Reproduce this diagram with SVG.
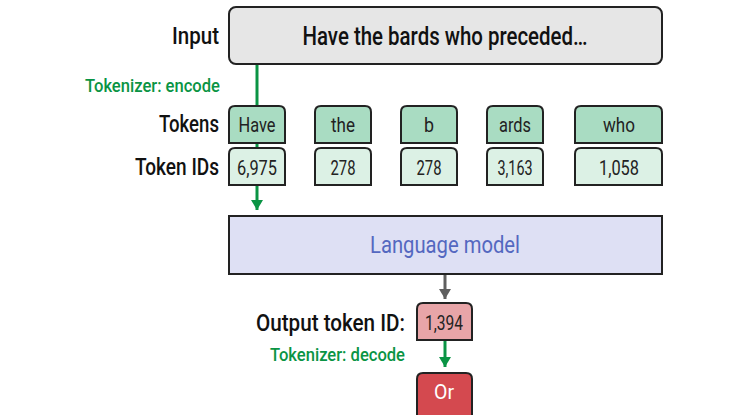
<svg xmlns="http://www.w3.org/2000/svg" width="734" height="415" viewBox="0 0 734 415">
<style>
text{font-family:Roboto,"Liberation Sans",sans-serif;font-weight:500;}
.lbl{font-size:24px;fill:#111;text-anchor:end;}
.grn{font-size:19px;fill:#0a9444;text-anchor:end;}
.box{stroke:#222;stroke-width:2;}
.tok{fill:#a9dcc2;}
.tid{fill:#dcf1e5;}
.bt{font-size:21px;fill:#222;text-anchor:middle;font-weight:400;}
.wt{fill:#fff;}
.lmt{font-size:24px;fill:#5468c0;text-anchor:middle;font-weight:400;}
</style>
<defs>
<marker id="ag" viewBox="0 0 10 12" refX="10" refY="6" markerWidth="10" markerHeight="12" markerUnits="userSpaceOnUse" orient="auto">
<path d="M0,0 L10,6 L0,12 Z" fill="#0a9444"/>
</marker>
<marker id="ay" viewBox="0 0 10 12" refX="10" refY="6" markerWidth="10" markerHeight="12" markerUnits="userSpaceOnUse" orient="auto">
<path d="M0,0 L10,6 L0,12 Z" fill="#5f5f5f"/>
</marker>
</defs>
<text class="lbl" x="219" y="44" textLength="47" lengthAdjust="spacingAndGlyphs">Input</text>
<text class="grn" x="220" y="92" textLength="135" lengthAdjust="spacingAndGlyphs">Tokenizer: encode</text>
<text class="lbl" x="219" y="132" textLength="60" lengthAdjust="spacingAndGlyphs">Tokens</text>
<text class="lbl" x="219" y="175" textLength="84" lengthAdjust="spacingAndGlyphs">Token IDs</text>
<text class="lbl" x="405" y="331" textLength="149" lengthAdjust="spacingAndGlyphs">Output token ID:</text>
<text class="grn" x="405" y="361" textLength="135" lengthAdjust="spacingAndGlyphs">Tokenizer: decode</text>
<g id="connectors">
<line x1="257" y1="64" x2="257" y2="210" stroke="#0a9444" stroke-width="3" marker-end="url(#ag)"/>
<line x1="445" y1="275" x2="445" y2="299" stroke="#5f5f5f" stroke-width="3" marker-end="url(#ay)"/>
<line x1="445" y1="340" x2="445" y2="367" stroke="#0a9444" stroke-width="3" marker-end="url(#ag)"/>
</g>
<g id="input">
<rect class="box" x="229" y="7" width="433" height="57" rx="7" fill="#e6e6e6"/>
<text x="445" y="45" font-size="25" fill="#111" text-anchor="middle" textLength="285" lengthAdjust="spacingAndGlyphs">Have the bards who preceded…</text>
</g>
<g id="tok-have"><path class="box tok" d="M229,143 V112 Q229,106 235,106 H279 Q285,106 285,112 V143 Z"/><text class="bt" x="257" y="132" textLength="37" lengthAdjust="spacingAndGlyphs">Have</text></g>
<g id="tok-the"><path class="box tok" d="M315,143 V112 Q315,106 321,106 H365 Q371,106 371,112 V143 Z"/><text class="bt" x="343" y="132" textLength="24" lengthAdjust="spacingAndGlyphs">the</text></g>
<g id="tok-b"><path class="box tok" d="M401,143 V112 Q401,106 407,106 H451 Q457,106 457,112 V143 Z"/><text class="bt" x="429" y="132" textLength="10" lengthAdjust="spacingAndGlyphs">b</text></g>
<g id="tok-ards"><path class="box tok" d="M487,143 V112 Q487,106 493,106 H537 Q543,106 543,112 V143 Z"/><text class="bt" x="515" y="132" textLength="32" lengthAdjust="spacingAndGlyphs">ards</text></g>
<g id="tok-who"><path class="box tok" d="M575,143 V112 Q575,106 581,106 H656 Q662,106 662,112 V143 Z"/><text class="bt" x="619" y="132" textLength="32" lengthAdjust="spacingAndGlyphs">who</text></g>
<g id="id-6975"><path class="box tid" d="M229,185 V154 Q229,148 235,148 H279 Q285,148 285,154 V185 Z"/><text class="bt" x="257" y="175" textLength="40" lengthAdjust="spacingAndGlyphs">6,975</text></g>
<g id="id-278a"><path class="box tid" d="M315,185 V154 Q315,148 321,148 H365 Q371,148 371,154 V185 Z"/><text class="bt" x="343" y="175" textLength="25" lengthAdjust="spacingAndGlyphs">278</text></g>
<g id="id-278b"><path class="box tid" d="M401,185 V154 Q401,148 407,148 H451 Q457,148 457,154 V185 Z"/><text class="bt" x="429" y="175" textLength="25" lengthAdjust="spacingAndGlyphs">278</text></g>
<g id="id-3163"><path class="box tid" d="M487,185 V154 Q487,148 493,148 H537 Q543,148 543,154 V185 Z"/><text class="bt" x="515" y="175" textLength="35" lengthAdjust="spacingAndGlyphs">3,163</text></g>
<g id="id-1058"><path class="box tid" d="M575,185 V154 Q575,148 581,148 H656 Q662,148 662,154 V185 Z"/><text class="bt" x="619" y="175" textLength="40" lengthAdjust="spacingAndGlyphs">1,058</text></g>
<g id="lm">
<rect class="box" x="229" y="216" width="433" height="58" fill="#dee0f4"/>
<text class="lmt" x="445" y="253" textLength="150" lengthAdjust="spacingAndGlyphs">Language model</text>
</g>
<g id="out-id"><path class="box" fill="#e8a5a8" d="M417,340 V309 Q417,303 423,303 H466 Q472,303 472,309 V340 Z"/><text class="bt" x="444" y="330" textLength="38" lengthAdjust="spacingAndGlyphs">1,394</text></g>
<g id="out-tok"><path class="box" fill="#d4494f" d="M417,420 V379 Q417,373 423,373 H466 Q472,373 472,379 V420 Z"/><text class="bt wt" x="444" y="399" textLength="20" lengthAdjust="spacingAndGlyphs">Or</text></g>
</svg>
